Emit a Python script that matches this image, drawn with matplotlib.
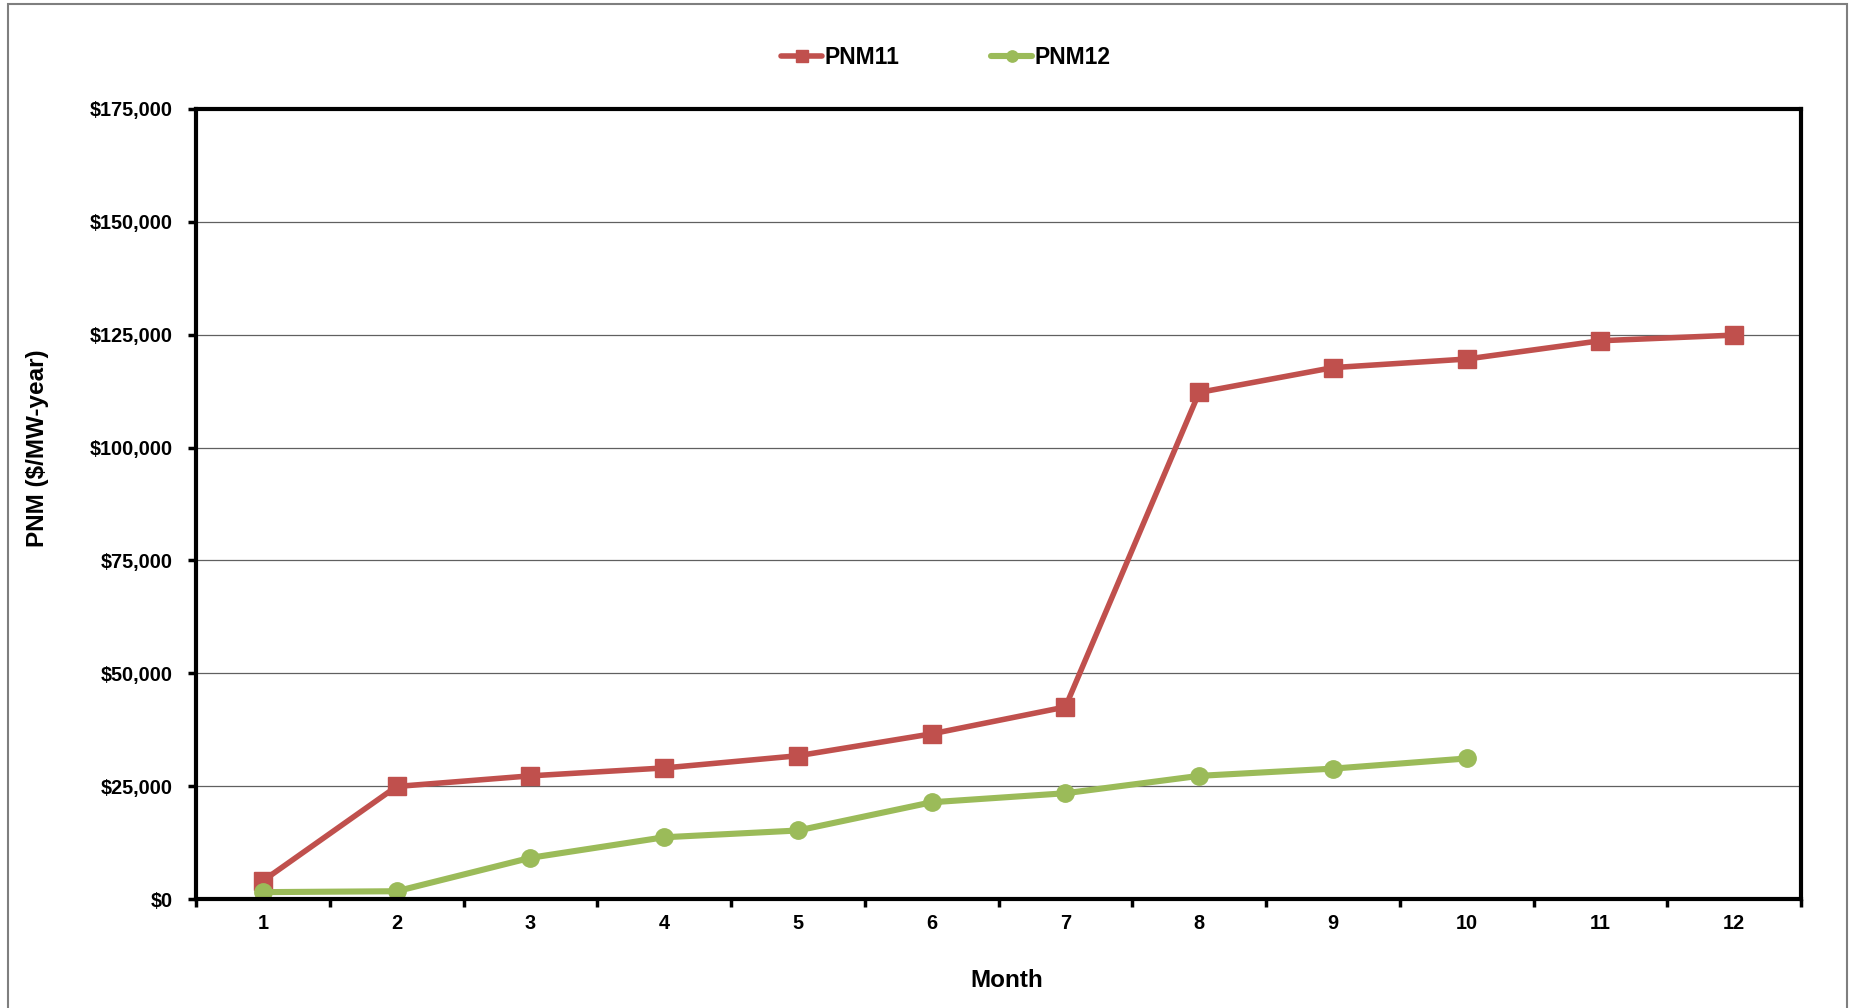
import matplotlib.pyplot as plt
from matplotlib.patches import Rectangle
from matplotlib.ticker import FuncFormatter, MultipleLocator

plt.rcParams['font.family'] = ['Liberation Sans', 'DejaVu Sans']
plt.rcParams['font.weight'] = 'bold'

# Monthly PNM values ($/MW-year)
months_pnm11 = [1, 2, 3, 4, 5, 6, 7, 8, 9, 10, 11, 12]
pnm11 = [4050, 24950, 27300, 29050, 31750, 36600, 42550, 112200, 117700, 119600, 123650, 124900]

months_pnm12 = [1, 2, 3, 4, 5, 6, 7, 8, 9, 10]
pnm12 = [1550, 1750, 9150, 13700, 15200, 21450, 23450, 27300, 28900, 31150]

red = "#C0504D"
green = "#9BBB59"

fig = plt.figure(figsize=(18.51, 10.08), dpi=100)
ax = fig.add_axes([0.1059, 0.108, 0.8671, 0.784])

# grey frame round the whole chart
fig.patches.append(Rectangle((0.0043, -0.02), 0.9935, 1.016, transform=fig.transFigure,
                             fill=False, edgecolor="#7f7f7f", linewidth=1.5))

ax.plot(months_pnm11, pnm11, color=red, lw=4.0, marker="s", markersize=12.5,
        label="PNM11", solid_capstyle="round")
ax.plot(months_pnm12, pnm12, color=green, lw=4.4, marker="o", markersize=12.5,
        label="PNM12", solid_capstyle="round")

ax.set_xlim(0.5, 12.5)
ax.set_ylim(0, 175000)
ax.yaxis.set_major_locator(MultipleLocator(25000))
ax.yaxis.set_major_formatter(FuncFormatter(lambda v, p: "${:,.0f}".format(v)))

# category ticks sit between months, labels centred on months
ax.set_xticks([m + 0.5 for m in range(0, 13)])
ax.set_xticklabels([])
ax.set_xticks(months_pnm11, minor=True)
ax.set_xticklabels([str(m) for m in months_pnm11], minor=True)
ax.tick_params(axis="x", which="minor", length=0, pad=11, labelsize=14.3)
ax.tick_params(axis="x", which="major", length=6, width=2.5, direction="out")
ax.tick_params(axis="y", length=6, width=2.5, direction="out", pad=11, labelsize=14.3)

ax.grid(axis="y", color="#606060", lw=0.9)
ax.set_axisbelow(True)
for s in ax.spines.values():
    s.set_linewidth(3)

ax.set_xlabel("Month", fontsize=17.5, fontweight="bold")
ax.xaxis.set_label_coords(0.505, -0.089)
ax.set_ylabel("PNM ($/MW-year)", fontsize=17.5, fontweight="bold")
ax.yaxis.set_label_coords(-0.0916, 0.571)

fig.legend(loc="center", bbox_to_anchor=(0.511, 0.943), ncol=2, frameon=False,
           fontsize=16.5, handlelength=1.8, handletextpad=0.1, columnspacing=4.0,
           markerscale=0.65)

fig.savefig("out.png", dpi=100)
